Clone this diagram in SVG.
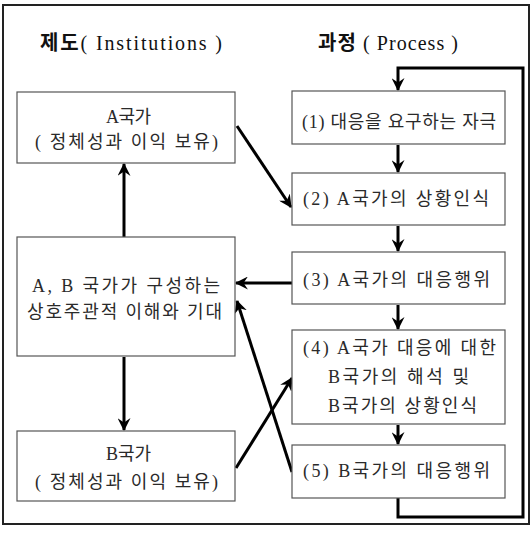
<svg xmlns="http://www.w3.org/2000/svg" width="532" height="534" viewBox="0 0 532 534">
<style>
.box{fill:#fff;stroke:#555;stroke-width:1.2}
.t{font-family:"Liberation Serif","Noto Sans CJK KR",serif;font-size:18px;fill:#2a2a2a}
.h{font-family:"Liberation Serif","Noto Sans CJK KR",serif;font-size:20px;fill:#111}
.b{font-weight:bold}
.c{fill:none;stroke:#000;stroke-width:3}
</style>
<defs>
<marker id="ah" viewBox="0 0 12 12" refX="11" refY="6" markerWidth="13" markerHeight="13" markerUnits="userSpaceOnUse" orient="auto">
<path d="M0,0 L12,6 L0,12 L4,6 z" fill="#000"/>
</marker>
</defs>
<rect x="3" y="5" width="526" height="519" fill="#fff" stroke="#222" stroke-width="2"/>
<text class="h" x="40" y="50" textLength="182" lengthAdjust="spacing"><tspan class="b">제도</tspan>( Institutions )</text>
<text class="h" x="318" y="50" textLength="140" lengthAdjust="spacing"><tspan class="b">과정</tspan> ( Process )</text>
<g id="connectors">
<line class="c" x1="124" y1="237" x2="124" y2="164" marker-end="url(#ah)"/>
<line class="c" x1="124" y1="357" x2="124" y2="430" marker-end="url(#ah)"/>
<line class="c" x1="237" y1="126" x2="291" y2="207" marker-end="url(#ah)"/>
<line class="c" x1="292" y1="283" x2="236" y2="283" marker-end="url(#ah)"/>
<line class="c" x1="292" y1="472" x2="237" y2="301" marker-end="url(#ah)"/>
<line class="c" x1="236" y1="468" x2="292" y2="378" marker-end="url(#ah)"/>
<line class="c" x1="398" y1="145" x2="398" y2="172" marker-end="url(#ah)"/>
<line class="c" x1="398" y1="226" x2="398" y2="251" marker-end="url(#ah)"/>
<line class="c" x1="398" y1="305" x2="398" y2="329" marker-end="url(#ah)"/>
<line class="c" x1="398" y1="425" x2="398" y2="444" marker-end="url(#ah)"/>
<path class="c" d="M398,498 V517 H523 V68 H398 V90" marker-end="url(#ah)"/>
</g>
<g id="stateA">
<rect class="box" x="17" y="92" width="218" height="71"/>
<text class="t" x="106" y="123" textLength="45" lengthAdjust="spacing">A국가</text>
<text class="t" x="35" y="148" textLength="183" lengthAdjust="spacing">( 정체성과 이익 보유)</text>
</g>
<g id="shared">
<rect class="box" x="17" y="237" width="218" height="119"/>
<text class="t" x="32" y="292" textLength="188" lengthAdjust="spacing">A, B 국가가 구성하는</text>
<text class="t" x="27" y="318" textLength="195" lengthAdjust="spacing">상호주관적 이해와 기대</text>
</g>
<g id="stateB">
<rect class="box" x="17" y="431" width="218" height="70"/>
<text class="t" x="106" y="460" textLength="45" lengthAdjust="spacing">B국가</text>
<text class="t" x="35" y="488" textLength="183" lengthAdjust="spacing">( 정체성과 이익 보유)</text>
</g>
<g id="p1">
<rect class="box" x="292" y="91" width="213" height="53"/>
<text class="t" x="302" y="128" textLength="194" lengthAdjust="spacing">(1) 대응을 요구하는 자극</text>
</g>
<g id="p2">
<rect class="box" x="292" y="173" width="213" height="52"/>
<text class="t" x="303" y="205" textLength="186" lengthAdjust="spacing">(2) A국가의 상황인식</text>
</g>
<g id="p3">
<rect class="box" x="292" y="252" width="213" height="52"/>
<text class="t" x="303" y="286" textLength="187" lengthAdjust="spacing">(3) A국가의 대응행위</text>
</g>
<g id="p4">
<rect class="box" x="292" y="330" width="213" height="94"/>
<text class="t" x="303" y="354" textLength="193" lengthAdjust="spacing">(4) A국가 대응에 대한</text>
<text class="t" x="328" y="383" textLength="141" lengthAdjust="spacing">B국가의 해석 및</text>
<text class="t" x="328" y="412" textLength="149" lengthAdjust="spacing">B국가의 상황인식</text>
</g>
<g id="p5">
<rect class="box" x="292" y="445" width="213" height="53"/>
<text class="t" x="303" y="477" textLength="187" lengthAdjust="spacing">(5) B국가의 대응행위</text>
</g>
</svg>
